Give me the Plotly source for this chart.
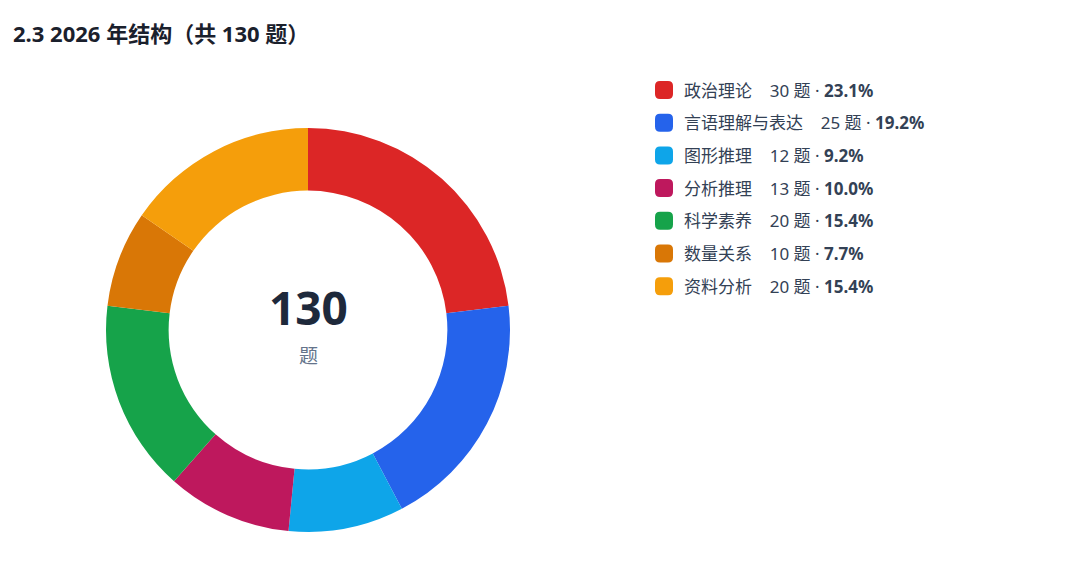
import plotly.graph_objects as go

# 2026 question structure
categories = ["政治理论", "言语理解与表达", "图形推理", "分析推理", "科学素养", "数量关系", "资料分析"]
counts = [30, 25, 12, 13, 20, 10, 20]
colors = ["#dc2626", "#2563eb", "#0ea5e9", "#be185d", "#16a34a", "#d97706", "#f59e0b"]
total = sum(counts)

W, H = 1080, 566
OFF = 8  # page body margin shifts everything by 8px
FONT = "Noto Sans, Noto Sans CJK SC, sans-serif"

# pie placed by pixel centre / radius
cx, cy, r = 308 - OFF, 330 - OFF, 202


def px(x):
    return (x - OFF) / W


def py_(y):
    return 1 - (y - OFF) / H


fig = go.Figure()
fig.add_trace(go.Pie(
    labels=categories,
    values=counts,
    hole=0.69,
    sort=False,
    direction="clockwise",
    rotation=0,
    textinfo="none",
    hoverinfo="label+value+percent",
    marker=dict(colors=colors, line=dict(color="white", width=0)),
    domain=dict(x=[(cx - r) / W, (cx + r) / W], y=[(H - cy - r) / H, (H - cy + r) / H]),
    showlegend=False,
))

annotations = [
    dict(text="<b>2.3 2026 年结构（共 130 题）</b>", x=px(11), y=py_(33),
         xanchor="left", yanchor="middle", font=dict(size=22, color="#1a202c")),
    dict(text="<b>%d</b>" % total, x=px(308), y=py_(307),
         xanchor="center", yanchor="middle", font=dict(size=46, color="#1e293b")),
    dict(text="题", x=px(308), y=py_(356),
         xanchor="center", yanchor="middle", font=dict(size=19, color="#64748b")),
]
shapes = []

# custom legend rows
row0, step = 90, 32.7
for i, (name, n, c) in enumerate(zip(categories, counts, colors)):
    y = row0 + i * step
    pct = n / total * 100
    annotations.append(dict(
        text="%s&nbsp;&nbsp;&nbsp;&nbsp;%d 题 · <b>%.1f%%</b>" % (name, n, pct),
        x=px(682), y=py_(y), xanchor="left", yanchor="middle",
        font=dict(size=17, color="#334155"),
    ))
    # rounded square marker, pixel path anchored at (664, y)
    s, k = 9, 5
    path = ("M %d,%d L %d,%d Q %d,%d %d,%d L %d,%d Q %d,%d %d,%d L %d,%d Q %d,%d %d,%d "
            "L %d,%d Q %d,%d %d,%d Z") % (
        -s + k, -s, s - k, -s, s, -s, s, -s + k, s, s - k, s, s, s - k, s,
        -s + k, s, -s, s, -s, s - k, -s, -s + k, -s, -s, -s + k, -s)
    shapes.append(dict(
        type="path", xref="paper", yref="paper", xsizemode="pixel", ysizemode="pixel",
        xanchor=px(664), yanchor=py_(y), path=path,
        fillcolor=c, line=dict(width=0),
    ))

for a in annotations:
    a.update(xref="paper", yref="paper", showarrow=False)

fig.update_layout(
    width=W, height=H,
    margin=dict(l=0, r=0, t=0, b=0),
    paper_bgcolor="white", plot_bgcolor="white",
    font=dict(family=FONT),
    annotations=annotations,
    shapes=shapes,
)

fig.write_html("out.html")
